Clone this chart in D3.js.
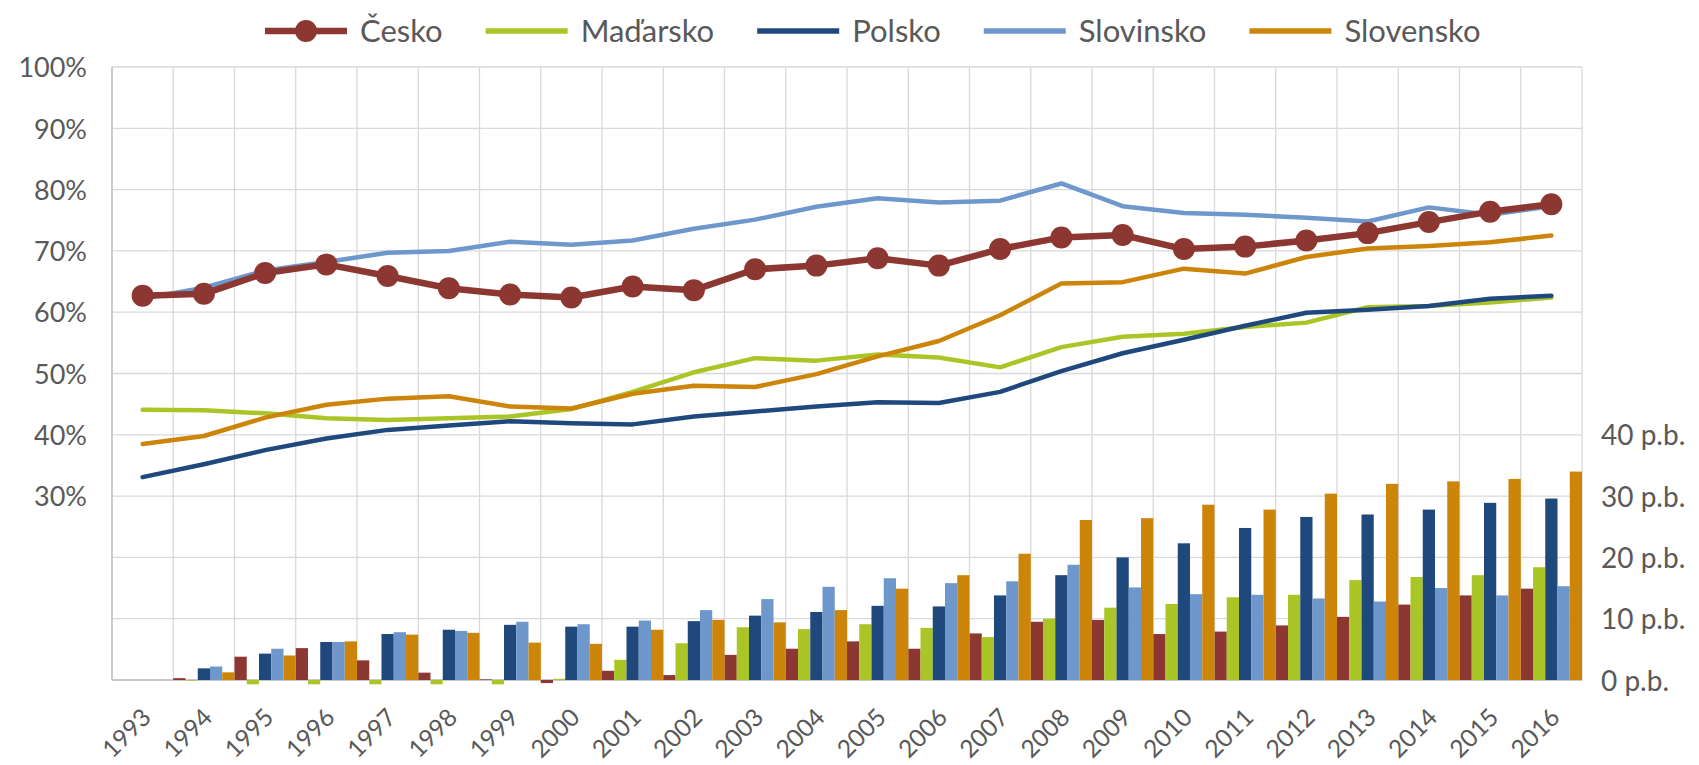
<!DOCTYPE html>
<html>
<head>
<meta charset="utf-8">
<script src="https://cdn.jsdelivr.net/npm/d3@7"></script>
<style>
  html, body { margin: 0; padding: 0; background: #ffffff; }
  svg { display: block; }
</style>
</head>
<body>
<svg id="chart" width="1699" height="765"></svg>
<script>
// ---------- DATA ----------
const years = ["1993","1994","1995","1996","1997","1998","1999","2000","2001","2002","2003","2004",
               "2005","2006","2007","2008","2009","2010","2011","2012","2013","2014","2015","2016"];

const seriesNames = ["Česko", "Maďarsko", "Polsko", "Slovinsko", "Slovensko"];

// line values (%)
const cesko     = [62.7, 63.0, 66.4, 67.8, 65.9, 63.9, 62.9, 62.4, 64.2, 63.6, 67.0, 67.6, 68.8, 67.6, 70.3, 72.2, 72.6, 70.3, 70.7, 71.7, 72.9, 74.7, 76.4, 77.6];
const madarsko  = [44.1, 44.0, 43.5, 42.7, 42.4, 42.7, 43.0, 44.2, 47.0, 50.2, 52.5, 52.1, 53.1, 52.6, 51.0, 54.3, 56.0, 56.5, 57.6, 58.3, 60.8, 61.0, 61.6, 62.4];
const polsko    = [33.1, 35.2, 37.5, 39.4, 40.8, 41.5, 42.2, 41.9, 41.7, 43.0, 43.8, 44.6, 45.3, 45.2, 47.0, 50.4, 53.3, 55.5, 57.8, 59.9, 60.4, 61.0, 62.2, 62.7];
const slovinsko = [62.2, 64.0, 66.8, 68.2, 69.7, 70.0, 71.5, 71.0, 71.7, 73.6, 75.1, 77.2, 78.6, 77.9, 78.2, 81.0, 77.3, 76.2, 75.9, 75.4, 74.8, 77.1, 75.9, 77.3];
const slovensko = [38.5, 39.8, 42.8, 44.9, 45.9, 46.3, 44.6, 44.3, 46.7, 48.0, 47.8, 49.9, 52.8, 55.3, 59.5, 64.7, 64.9, 67.1, 66.3, 69.0, 70.4, 70.8, 71.4, 72.5];

// bar values (change in p.b.)
const ceskoBar     = [0, 0.3, 3.8, 5.2, 3.2, 1.2, 0.1, -0.5, 1.5, 0.8, 4.1, 5.1, 6.3, 5.1, 7.6, 9.5, 9.8, 7.5, 7.9, 8.9, 10.3, 12.3, 13.8, 14.9];
const madarskoBar  = [0, -0.1, -0.7, -0.7, -0.7, -0.7, -0.7, 0.2, 3.3, 6.0, 8.6, 8.3, 9.1, 8.5, 7.0, 10.0, 11.8, 12.4, 13.5, 13.9, 16.3, 16.8, 17.1, 18.4];
const polskoBar    = [0, 1.9, 4.3, 6.2, 7.5, 8.2, 9.0, 8.7, 8.7, 9.6, 10.5, 11.1, 12.1, 12.0, 13.8, 17.1, 20.0, 22.3, 24.8, 26.6, 27.0, 27.8, 28.9, 29.6];
const slovinskoBar = [0, 2.2, 5.1, 6.2, 7.8, 8.0, 9.5, 9.1, 9.7, 11.4, 13.2, 15.2, 16.6, 15.8, 16.1, 18.8, 15.1, 14.0, 13.9, 13.3, 12.8, 15.0, 13.8, 15.3];
const slovenskoBar = [0, 1.25, 4.0, 6.3, 7.4, 7.7, 6.1, 5.9, 8.2, 9.8, 9.4, 11.4, 14.9, 17.1, 20.6, 26.1, 26.4, 28.6, 27.8, 30.4, 32.0, 32.4, 32.8, 34.0];

const leftTicks  = [30, 40, 50, 60, 70, 80, 90, 100];
const rightTicks = [0, 10, 20, 30, 40];
const gridTicks  = [0, 10, 20, 30, 40, 50, 60, 70, 80, 90, 100];

// ---------- STYLE ----------
const colors = {
  "Česko": "#8C3731",
  "Maďarsko": "#A9C626",
  "Polsko": "#1F497D",
  "Slovinsko": "#6E97CB",
  "Slovensko": "#CC8409"
};
const lineValues = [cesko, madarsko, polsko, slovinsko, slovensko];
const barValues  = [ceskoBar, madarskoBar, polskoBar, slovinskoBar, slovenskoBar];

const font = "Lato, 'Open Sans', sans-serif";
const textColor = "#595959";

const svg = d3.select("#chart");
const plotLeft = 112, plotRight = 1582, plotTop = 67, plotBottom = 680;

const x = d3.scaleBand().domain(years).range([plotLeft, plotRight]).padding(0);
const xs = d3.scaleBand().domain(seriesNames).range([0, x.bandwidth()]).padding(0);
const y = d3.scaleLinear().domain([0, 100]).range([plotBottom, plotTop]);
const y2 = d3.scaleLinear().domain([0, 100]).range([plotBottom, plotTop]);

// ---------- GRID ----------
const grid = svg.append("g");
grid.selectAll("line.h").data(gridTicks).join("line")
  .attr("x1", plotLeft).attr("x2", plotRight)
  .attr("y1", d => y(d)).attr("y2", d => y(d))
  .attr("stroke", "#d9d9d9").attr("stroke-width", 1.3);
const vlines = years.map(d => x(d)).concat([plotRight]);
grid.selectAll("line.v").data(vlines).join("line")
  .attr("x1", d => d).attr("x2", d => d)
  .attr("y1", plotTop).attr("y2", plotBottom)
  .attr("stroke", "#d9d9d9").attr("stroke-width", 1.3);
svg.append("line").attr("x1", plotLeft).attr("x2", plotLeft).attr("y1", plotTop).attr("y2", plotBottom)
  .attr("stroke", "#bfbfbf").attr("stroke-width", 1.3);
svg.append("line").attr("x1", plotLeft).attr("x2", plotRight).attr("y1", plotBottom).attr("y2", plotBottom)
  .attr("stroke", "#bfbfbf").attr("stroke-width", 1.3);

// ---------- BARS ----------
const barG = svg.append("g");
seriesNames.forEach((name, si) => {
  const vals = barValues[si];
  barG.append("g").selectAll("rect")
    .data(years.map((yr, i) => ({yr, v: vals[i]})).filter(d => d.yr !== "1993"))
    .join("rect")
    .attr("x", d => x(d.yr) + xs(name))
    .attr("width", xs.bandwidth())
    .attr("y", d => Math.min(y2(d.v), y2(0)))
    .attr("height", d => Math.abs(y2(d.v) - y2(0)))
    .attr("fill", colors[name]);
});

// ---------- LINES ----------
const lineGen = d3.line().x((d, i) => x(years[i]) + x.bandwidth() / 2).y(d => y(d));
const drawOrder = [1, 2, 4, 3, 0];
drawOrder.forEach(si => {
  const name = seriesNames[si];
  svg.append("path").datum(lineValues[si])
    .attr("d", lineGen)
    .attr("fill", "none")
    .attr("stroke", colors[name])
    .attr("stroke-width", si === 0 ? 6.5 : 4.5)
    .attr("stroke-linejoin", "round")
    .attr("stroke-linecap", "round");
  if (si === 0) {
    svg.append("g").selectAll("circle").data(lineValues[si]).join("circle")
      .attr("cx", (d, i) => x(years[i]) + x.bandwidth() / 2)
      .attr("cy", d => y(d))
      .attr("r", 11)
      .attr("fill", colors[name]);
  }
});

// ---------- AXES ----------
const yAxis = d3.axisLeft(y).tickValues(leftTicks).tickSize(0).tickPadding(0).tickFormat(d => d + "%");
const ya = svg.append("g").attr("transform", `translate(${plotLeft - 25},0)`).call(yAxis);
ya.select(".domain").remove();
ya.selectAll("text").attr("font-family", font).attr("font-size", 27).attr("fill", textColor)
  .attr("dy", "0.36em");

const y2Axis = d3.axisRight(y2).tickValues(rightTicks).tickSize(0).tickPadding(0).tickFormat(d => d + " p.b.");
const y2a = svg.append("g").attr("transform", `translate(${1601},0)`).call(y2Axis);
y2a.select(".domain").remove();
y2a.selectAll("text").attr("font-family", font).attr("font-size", 28).attr("fill", textColor)
  .attr("dy", "0.36em");

const xAxis = d3.axisBottom(x).tickSize(0).tickPadding(0);
const xa = svg.append("g").attr("transform", `translate(0,${plotBottom})`).call(xAxis);
xa.select(".domain").remove();
xa.selectAll("text")
  .attr("font-family", font).attr("font-size", 24.5).attr("fill", textColor)
  .attr("text-anchor", "end")
  .attr("dy", null)
  .attr("y", 0)
  .attr("x", 0)
  .attr("transform", `translate(${10},${39}) rotate(-45)`);

// ---------- LEGEND ----------
const legend = svg.append("g");
let lx = 265;
const ly = 31;
seriesNames.forEach((name, i) => {
  const g = legend.append("g");
  g.append("line").attr("x1", lx).attr("x2", lx + 82).attr("y1", ly).attr("y2", ly)
    .attr("stroke", colors[name]).attr("stroke-width", i === 0 ? 6.5 : 5.5);
  if (i === 0) g.append("circle").attr("cx", lx + 41).attr("cy", ly).attr("r", 11).attr("fill", colors[name]);
  const t = g.append("text").attr("x", lx + 95).attr("y", ly).attr("dy", "0.36em")
    .attr("font-family", font).attr("font-size", 31).attr("fill", textColor).text(name);
  const w = t.node().getComputedTextLength();
  lx = lx + 95 + w + 43;
});
</script>
</body>
</html>
